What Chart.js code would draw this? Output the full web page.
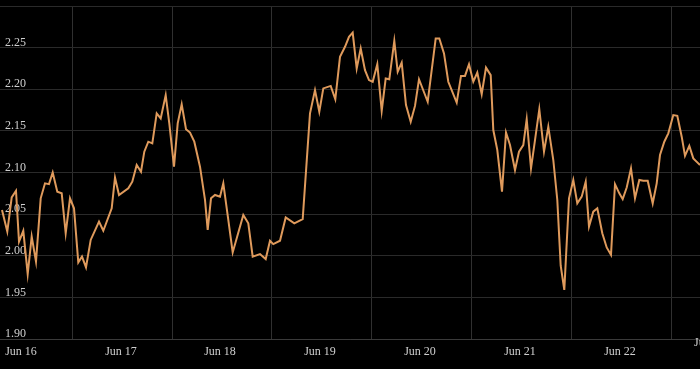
<!DOCTYPE html>
<html>
<head>
<meta charset="utf-8">
<script src="https://cdn.jsdelivr.net/npm/chart.js@4/dist/chart.umd.min.js"></script>
<style>
  html, body { margin: 0; padding: 0; background: #000; }
  #wrap { width: 700px; height: 369px; }
</style>
</head>
<body>
<div id="wrap"><canvas id="c" width="700" height="369"></canvas></div>
<script>
// Time in days since the left edge of the chart, and the series values
const times = [
  0.02, 0.073, 0.117, 0.16, 0.19, 0.233, 0.277, 0.317, 0.36, 0.407, 0.45, 0.49, 0.527, 0.573, 0.617, 0.657,
  0.70, 0.74, 0.783, 0.82, 0.86, 0.907, 0.99, 1.033, 1.117, 1.15, 1.19, 1.283, 1.323, 1.367, 1.41, 1.443,
  1.483, 1.523, 1.567, 1.607, 1.657, 1.693, 1.74, 1.777, 1.817, 1.86, 1.90, 1.943, 2.00, 2.05, 2.077, 2.11,
  2.15, 2.20, 2.233, 2.283, 2.327, 2.433, 2.483, 2.527, 2.60, 2.657, 2.70, 2.733, 2.80, 2.857, 2.943, 3.027,
  3.10, 3.15, 3.193, 3.233, 3.307, 3.353, 3.40, 3.45, 3.49, 3.527, 3.567, 3.607, 3.65, 3.69, 3.727, 3.773,
  3.817, 3.857, 3.893, 3.943, 3.977, 4.017, 4.06, 4.107, 4.15, 4.19, 4.277, 4.357, 4.393, 4.44, 4.483, 4.567,
  4.61, 4.65, 4.69, 4.733, 4.773, 4.817, 4.86, 4.907, 4.933, 4.973, 5.02, 5.06, 5.10, 5.15, 5.19, 5.233,
  5.267, 5.31, 5.35, 5.393, 5.44, 5.483, 5.533, 5.573, 5.607, 5.643, 5.69, 5.733, 5.773, 5.817, 5.857, 5.89,
  5.933, 5.973, 6.023, 6.067, 6.11, 6.15, 6.193, 6.227, 6.267, 6.31, 6.35, 6.393, 6.433, 6.477, 6.527, 6.567,
  6.60, 6.643, 6.683, 6.733, 6.773, 6.817, 6.85, 6.893, 6.933, 6.983, 7.0
];
const values = [
  2.055, 2.029, 2.070, 2.078, 2.017, 2.030, 1.978, 2.023, 1.993, 2.069, 2.087, 2.086, 2.100, 2.077, 2.075, 2.027,
  2.069, 2.057, 1.992, 1.999, 1.986, 2.019, 2.041, 2.030, 2.057, 2.094, 2.073, 2.081, 2.089, 2.109, 2.101, 2.125,
  2.137, 2.135, 2.171, 2.165, 2.193, 2.159, 2.107, 2.159, 2.182, 2.152, 2.148, 2.137, 2.107, 2.067, 2.031, 2.069,
  2.073, 2.071, 2.087, 2.043, 2.004, 2.049, 2.039, 1.999, 2.002, 1.996, 2.018, 2.014, 2.018, 2.046, 2.039, 2.044,
  2.171, 2.199, 2.173, 2.201, 2.204, 2.188, 2.239, 2.251, 2.263, 2.268, 2.225, 2.249, 2.223, 2.211, 2.209, 2.230,
  2.174, 2.213, 2.212, 2.258, 2.221, 2.232, 2.181, 2.161, 2.180, 2.212, 2.185, 2.261, 2.261, 2.243, 2.209, 2.184,
  2.216, 2.216, 2.230, 2.209, 2.220, 2.194, 2.226, 2.217, 2.151, 2.127, 2.077, 2.148, 2.133, 2.103, 2.125, 2.133,
  2.164, 2.105, 2.139, 2.176, 2.125, 2.155, 2.115, 2.067, 1.988, 1.959, 2.069, 2.091, 2.063, 2.071, 2.089, 2.035,
  2.053, 2.057, 2.027, 2.010, 2.001, 2.086, 2.075, 2.068, 2.082, 2.105, 2.069, 2.091, 2.090, 2.090, 2.063, 2.087,
  2.121, 2.137, 2.147, 2.169, 2.168, 2.143, 2.120, 2.132, 2.117, 2.111, 2.109
];
const dayLabels = ['Jun 16', 'Jun 17', 'Jun 18', 'Jun 19', 'Jun 20', 'Jun 21', 'Jun 22', 'Jun 23'];
const gridTimes = [0.72, 1.72, 2.71, 3.71, 4.71, 5.71, 6.71];
const yTicks = [1.90, 1.95, 2.00, 2.05, 2.10, 2.15, 2.20, 2.25, 2.30];

const FONT = { family: '"Liberation Serif", "Times New Roman", serif', size: 12 };
const TEXT = '#cfcfcf';

const lastLabel = {
  id: 'lastLabel',
  afterDraw(chart) {
    const ctx = chart.ctx;
    ctx.save();
    ctx.font = '12px "Liberation Serif", serif';
    ctx.fillStyle = TEXT;
    ctx.textAlign = 'left';
    ctx.textBaseline = 'middle';
    ctx.fillText(dayLabels[7], 694, 343);
    ctx.restore();
  }
};

new Chart(document.getElementById('c'), {
  type: 'line',
  data: {
    datasets: [{
      data: times.map((t, i) => ({ x: t, y: values[i] })),
      borderColor: '#df9a5c',
      borderWidth: 2,
      pointRadius: 0,
      tension: 0,
      fill: false
    }]
  },
  options: {
    responsive: false,
    animation: false,
    layout: { padding: { top: 0, bottom: 10, left: 0, right: 0 } },
    plugins: { legend: { display: false }, tooltip: { enabled: false } },
    scales: {
      x: {
        type: 'linear',
        min: 0,
        max: 7,
        afterBuildTicks(scale) { scale.ticks = gridTimes.map(v => ({ value: v })); },
        afterFit(scale) { scale.height = 20; scale.paddingLeft = 0; scale.paddingRight = 0; },
        grid: { color: '#303030', drawTicks: false, lineWidth: 1 },
        border: { display: true, color: '#3a3a3a' },
        ticks: {
          color: TEXT,
          font: FONT,
          padding: 6,
          maxRotation: 0,
          autoSkip: false,
          labelOffset: -51,
          callback: (v, i) => dayLabels[i]
        }
      },
      y: {
        type: 'linear',
        min: 1.90,
        max: 2.30,
        afterBuildTicks(scale) { scale.ticks = yTicks.map(v => ({ value: v })); },
        afterFit(scale) { scale.width = 0; scale.paddingTop = 6; scale.paddingBottom = 0; },
        grid: { color: '#2a2a2a', drawTicks: false, lineWidth: 1 },
        border: { display: false },
        ticks: {
          mirror: true,
          color: TEXT,
          font: FONT,
          padding: 5,
          labelOffset: -5,
          autoSkip: false,
          callback: (v) => (Math.abs(v - 2.30) < 1e-6 ? '' : Number(v).toFixed(2))
        }
      }
    }
  },
  plugins: [lastLabel]
});
</script>
</body>
</html>
